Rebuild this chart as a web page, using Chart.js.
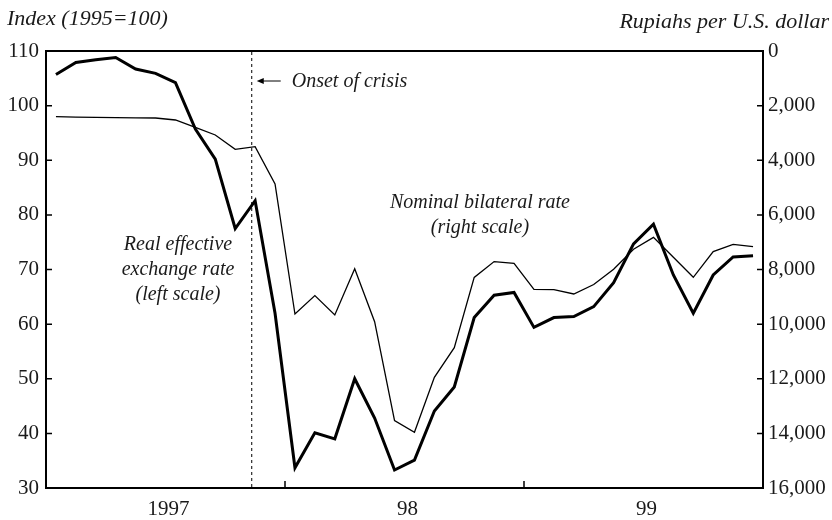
<!DOCTYPE html>
<html><head><meta charset="utf-8">
<script src="https://cdn.jsdelivr.net/npm/chart.js@4/dist/chart.umd.min.js"></script>
<style>html,body{margin:0;padding:0;background:#fff;}</style>
</head><body>
<canvas id="c" width="832" height="520"></canvas>
<script>
// Monthly observations, Jan 1997 - Dec 1999
const months = [
  "1997-01","1997-02","1997-03","1997-04","1997-05","1997-06","1997-07","1997-08","1997-09","1997-10","1997-11","1997-12",
  "1998-01","1998-02","1998-03","1998-04","1998-05","1998-06","1998-07","1998-08","1998-09","1998-10","1998-11","1998-12",
  "1999-01","1999-02","1999-03","1999-04","1999-05","1999-06","1999-07","1999-08","1999-09","1999-10","1999-11","1999-12"
];
// Real effective exchange rate, index 1995=100 (left scale)
const realEffective = [105.7,107.9,108.4,108.8,106.7,105.9,104.2,95.7,90.2,77.5,82.6,62.0,
  33.7,40.1,39.0,50.0,42.8,33.3,35.1,44.1,48.5,61.2,65.3,65.8,
  59.4,61.2,61.4,63.2,67.6,74.7,78.3,69.0,62.0,69.0,72.3,72.5];
// Nominal bilateral rate, rupiahs per U.S. dollar (right scale, inverted)
const nominalBilateral = [2405,2420,2430,2440,2445,2453,2526,2795,3075,3600,3500,4870,
  9630,8957,9665,7970,9910,13535,13960,11946,10862,8290,7710,7773,
  8725,8740,8896,8550,7993,7260,6822,7554,8285,7347,7077,7165];
const yearLabels = {6: "1997", 18: "98", 30: "99"};
const yearBoundaries = [12, 24];
const onsetOfCrisis = 10.33;
const leftTitle = "Index (1995=100)";
const rightTitle = "Rupiahs per U.S. dollar";

const INK = "#1a1a1a";
const SERIF = '"Liberation Serif", "Times New Roman", serif';

const toPoints = arr => arr.map((v, i) => ({x: i + 0.5, y: v}));

const decor = {
  id: "decor",
  afterDraw(chart) {
    const ctx = chart.ctx, a = chart.chartArea;
    const xs = chart.scales.x, yl = chart.scales.y, yr = chart.scales.y1;
    ctx.save();
    ctx.strokeStyle = "#000";
    // top border
    ctx.lineWidth = 2;
    ctx.beginPath(); ctx.moveTo(a.left - 1, a.top); ctx.lineTo(a.right + 1, a.top); ctx.stroke();
    // inward ticks
    ctx.lineWidth = 1.5;
    ctx.beginPath();
    yl.ticks.forEach(t => { const y = yl.getPixelForValue(t.value); ctx.moveTo(a.left, y); ctx.lineTo(a.left + 6, y); });
    yr.ticks.forEach(t => { const y = yr.getPixelForValue(t.value); ctx.moveTo(a.right, y); ctx.lineTo(a.right - 6, y); });
    yearBoundaries.forEach(v => { const x = xs.getPixelForValue(v); ctx.moveTo(x, a.bottom); ctx.lineTo(x, a.bottom - 7); });
    ctx.stroke();
    // onset of crisis dashed line
    const xo = xs.getPixelForValue(onsetOfCrisis);
    ctx.lineWidth = 1;
    ctx.setLineDash([3, 3]);
    ctx.beginPath(); ctx.moveTo(xo, a.top + 1); ctx.lineTo(xo, a.bottom - 1); ctx.stroke();
    ctx.setLineDash([]);
    // arrow
    const ay = 81;
    ctx.beginPath(); ctx.moveTo(xo + 29, ay); ctx.lineTo(xo + 9, ay); ctx.stroke();
    ctx.fillStyle = "#000";
    ctx.beginPath(); ctx.moveTo(xo + 5, ay); ctx.lineTo(xo + 12, ay - 3); ctx.lineTo(xo + 12, ay + 3); ctx.closePath(); ctx.fill();
    // texts
    ctx.fillStyle = INK;
    ctx.textBaseline = "alphabetic";
    ctx.font = "italic 22px " + SERIF;
    ctx.textAlign = "left";
    ctx.fillText(leftTitle, 7, 25);
    ctx.textAlign = "right";
    ctx.fillText(rightTitle, 829, 28);
    ctx.font = "italic 20px " + SERIF;
    ctx.textAlign = "left";
    ctx.fillText("Onset of crisis", xo + 40, 87);
    ctx.textAlign = "center";
    ctx.fillText("Real effective", 178, 250);
    ctx.fillText("exchange rate", 178, 275);
    ctx.fillText("(left scale)", 178, 300);
    ctx.fillText("Nominal bilateral rate", 480, 208);
    ctx.fillText("(right scale)", 480, 233);
    ctx.restore();
  }
};

new Chart(document.getElementById("c"), {
  type: "line",
  data: {
    datasets: [
      {label: "Real effective exchange rate", data: toPoints(realEffective), yAxisID: "y",
       borderColor: "#000", borderWidth: 3, pointRadius: 0, tension: 0, borderJoinStyle: "miter"},
      {label: "Nominal bilateral rate", data: toPoints(nominalBilateral), yAxisID: "y1",
       borderColor: "#000", borderWidth: 1.3, pointRadius: 0, tension: 0}
    ]
  },
  options: {
    responsive: false, animation: false,
    layout: {padding: {top: 51, left: 0, right: 0, bottom: 0}},
    plugins: {legend: {display: false}, tooltip: {enabled: false}},
    scales: {
      x: {
        type: "linear", min: 0, max: 36,
        afterBuildTicks: s => { s.ticks = Object.keys(yearLabels).map(k => ({value: Number(k)})); },
        afterFit: s => { s.height = 32; },
        grid: {display: false, drawTicks: false},
        border: {display: true, color: "#000", width: 2},
        ticks: {callback: v => yearLabels[v] || "", padding: 9, maxRotation: 0, autoSkip: false,
                labelOffset: 3,
                color: INK, font: {family: SERIF, size: 21}}
      },
      y: {
        position: "left", min: 30, max: 110,
        afterFit: s => { s.width = 46; },
        grid: {display: false, drawTicks: false},
        border: {display: true, color: "#000", width: 2},
        ticks: {stepSize: 10, padding: 7, color: INK, font: {family: SERIF, size: 21}}
      },
      y1: {
        position: "right", min: 0, max: 16000, reverse: true,
        afterFit: s => { s.width = 69; },
        grid: {display: false, drawTicks: false},
        border: {display: true, color: "#000", width: 2},
        ticks: {stepSize: 2000, padding: 5, color: INK, font: {family: SERIF, size: 21},
                callback: v => v.toLocaleString("en-US")}
      }
    }
  },
  plugins: [decor]
});
</script>
</body></html>
